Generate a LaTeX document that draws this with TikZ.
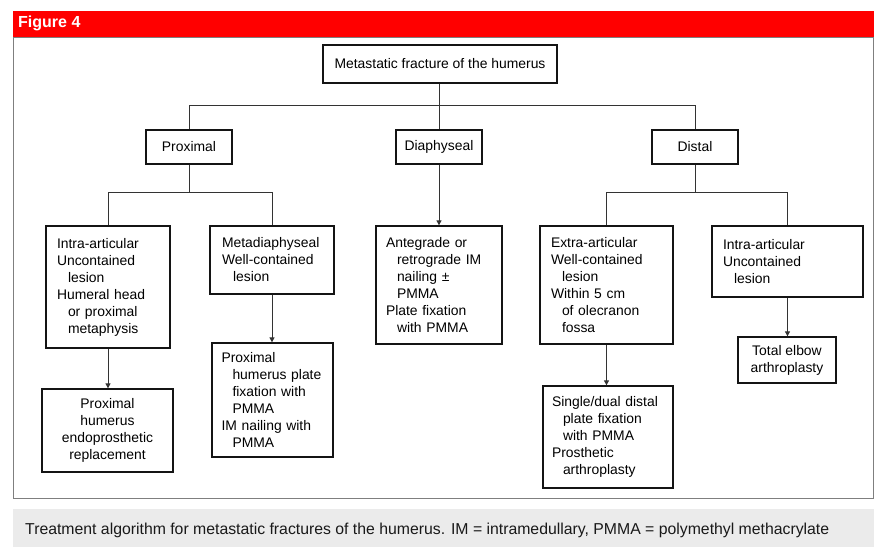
\documentclass[tikz,border=0pt]{standalone}
\usepackage{fontspec}
\setmainfont{Liberation Sans}
\usetikzlibrary{arrows.meta}
\definecolor{figred}{HTML}{FF0000}
\definecolor{framegray}{HTML}{7F7F7F}
\definecolor{capgray}{HTML}{EBEBEB}
\newcommand{\hin}{\hspace*{11pt}}
\begin{document}
\begin{tikzpicture}[x=1pt,y=-1pt,
  box/.style={draw=black!92, line width=1.3pt, inner sep=0pt,
    font=\fontsize{13.9}{17}\selectfont},
  lbox/.style={box, align=left},
  cbox/.style={box, align=center},
  conn/.style={draw=black!80, line width=0.9pt},
  arr/.style={conn, -{Triangle[width=5pt,length=5pt]}}]
\useasboundingbox (0,0) rectangle (879,552);
% frame and title bar
\draw[framegray, line width=1pt] (13,37) rectangle (873.5,498);
\fill[figred] (13,11) rectangle (874,37);
\node[anchor=west, text=white, inner sep=0pt,
  font=\fontsize{16}{18}\selectfont\bfseries] (title) at (18,23.5) {Figure 4};
% caption
\fill[capgray] (13,509) rectangle (874,547);
\node[anchor=base west, inner sep=0pt, text=black!90,
  font=\fontsize{15.8}{18}\selectfont] (cap) at (25,534)
  {Treatment algorithm for metastatic fractures of the humerus. IM = intramedullary, PMMA = polymethyl methacrylate};
% level 0
\node[cbox, minimum width=234pt, minimum height=38pt] (root) at (440,64)
  {Metastatic fracture of the humerus};
% level 1
\node[cbox, minimum width=86pt, minimum height=34pt] (prox) at (189,147) {Proximal};
\node[cbox, minimum width=86pt, minimum height=34pt] (diaph) at (439,147) {Diaphyseal};
\node[cbox, minimum width=86pt, minimum height=34pt] (dist) at (695,147) {Distal};
% level 2
\node[lbox, minimum width=124pt, minimum height=122pt, text width=102pt] (b1) at (108,287)
  {Intra-articular\\Uncontained\\\hin lesion\\Humeral head\\\hin or proximal\\\hin metaphysis};
\node[lbox, minimum width=124pt, minimum height=68pt, text width=100pt] (b2) at (272,260)
  {Metadiaphyseal\\Well-contained\\\hin lesion};
\node[lbox, minimum width=126pt, minimum height=118pt, text width=106pt] (b3) at (439,285)
  {Antegrade or\\\hin retrograde IM\\\hin nailing ±\\\hin PMMA\\Plate fixation\\\hin with PMMA};
\node[lbox, minimum width=133pt, minimum height=118pt, text width=111pt] (b4) at (606.5,285)
  {Extra-articular\\Well-contained\\\hin lesion\\Within 5 cm\\\hin of olecranon\\\hin fossa};
\node[lbox, minimum width=151pt, minimum height=71pt, text width=129pt] (b5) at (787.5,261.5)
  {Intra-articular\\Uncontained\\\hin lesion};
% level 3
\node[cbox, minimum width=131pt, minimum height=83pt] (c1) at (107.5,430.5)
  {Proximal\\humerus\\endoprosthetic\\replacement};
\node[lbox, minimum width=121pt, minimum height=114pt, text width=102pt] (c2) at (272.5,400)
  {Proximal\\\hin humerus plate\\\hin fixation with\\\hin PMMA\\IM nailing with\\\hin PMMA};
\node[lbox, minimum width=130pt, minimum height=102pt, text width=112pt] (c4) at (608,437)
  {Single/dual distal\\\hin plate fixation\\\hin with PMMA\\Prosthetic\\\hin arthroplasty};
\node[cbox, minimum width=98pt, minimum height=46pt] (c5) at (787,360)
  {Total elbow\\arthroplasty};
% connectors
\coordinate (j0) at (439,105);
\coordinate (jp) at (189,192);
\coordinate (jd) at (695,192);
\draw[conn] (root.south -| diaph.north) -- (diaph.north);
\draw[conn] (prox.north) -- (prox.north |- j0) -- (dist.north |- j0) -- (dist.north);
\draw[conn] (prox.south) -- (jp);
\draw[conn] (b1.north) -- (b1.north |- jp) -- (b2.north |- jp) -- (b2.north);
\draw[conn] (dist.south) -- (jd);
\draw[conn] (b4.north) -- (b4.north |- jd) -- (b5.north |- jd) -- (b5.north);
\draw[arr] (diaph.south) -- (b3.north);
\draw[arr] (b1.south) -- (b1.south |- c1.north);
\draw[arr] (b2.south) -- (b2.south |- c2.north);
\draw[arr] (b4.south) -- (b4.south |- c4.north);
\draw[arr] (b5.south) -- (b5.south |- c5.north);
\end{tikzpicture}
\end{document}
